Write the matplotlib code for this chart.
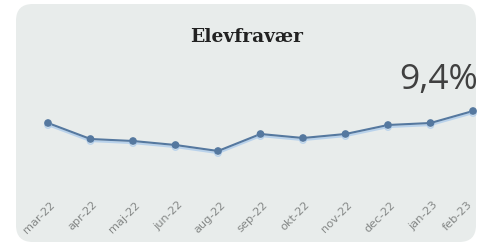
import matplotlib
matplotlib.use("Agg")
import matplotlib.pyplot as plt
from matplotlib.patches import FancyBboxPatch
from matplotlib.transforms import ScaledTranslation
import matplotlib.patheffects as pe

months = ["mar-22", "apr-22", "maj-22", "jun-22", "aug-22", "sep-22",
          "okt-22", "nov-22", "dec-22", "jan-23", "feb-23"]
absence = [8.8, 8.0, 7.9, 7.7, 7.4, 8.25, 8.05, 8.25, 8.7, 8.8, 9.4]
title = "Elevfravær"
latest_label = "9,4%"

W, H = 479, 246
fig = plt.figure(figsize=(W / 100, H / 100), dpi=100)
fig.patch.set_facecolor("white")

# rounded card
card = FancyBboxPatch((16 / W, 4 / H), (476 - 16) / W, (242 - 4) / H,
                      boxstyle="round,pad=0,rounding_size=0.035",
                      transform=fig.transFigure, facecolor="#e8eceb",
                      edgecolor="none", mutation_aspect=W / H, zorder=-5)
fig.patches.append(card)

x0, x1 = 48, 473
ytop, ybot = 111, 151
ax = fig.add_axes([x0 / W, (H - ybot) / H, (x1 - x0) / W, (ybot - ytop) / H])
ax.set_zorder(5)
ax.set_facecolor("none")
for s in ax.spines.values():
    s.set_visible(False)

xs = list(range(len(months)))
ax.plot(xs, absence, color="#55789f", lw=1.5, marker="o", ms=4.5,
        markerfacecolor="#55789f", markeredgecolor="#55789f", clip_on=False,
        path_effects=[pe.SimpleLineShadow(offset=(0, -1.5), shadow_color="#a6c8ec", alpha=0.7),
                      pe.Normal()])
ax.set_xlim(0, len(months) - 1)
ax.set_ylim(min(absence), max(absence))
ax.set_yticks([])
ax.set_xticks(xs)
ax.set_xticklabels(months, rotation=45, ha="right", rotation_mode="anchor",
                   fontsize=8.2, color="#858887")
ax.tick_params(axis="x", length=0, pad=35)
labels = ax.get_xticklabels()
for i, lab in enumerate(labels):
    dx = 2 if i < len(labels) - 1 else -6
    lab.set_transform(lab.get_transform() + ScaledTranslation(dx / 100, 0, fig.dpi_scale_trans))

fig.text(247 / W, 1 - 37 / H, title, ha="center", va="center",
         fontsize=13.5, fontweight="bold", family="DejaVu Serif", color="#222222")
fig.text(478 / W, 1 - 80 / H, latest_label, ha="right", va="center",
         fontsize=25.5, family="Open Sans", color="#404040")

fig.savefig("out.png", dpi=100, facecolor="white")
